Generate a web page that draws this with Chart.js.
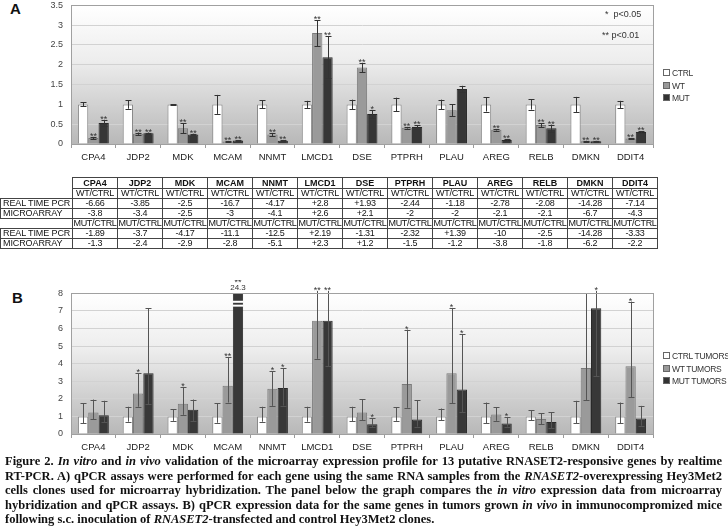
<!DOCTYPE html>
<html>
<head>
<meta charset="utf-8">
<script src="https://cdn.jsdelivr.net/npm/chart.js@4.4.1/dist/chart.umd.min.js"></script>
<style>
  body { margin: 0; background: #fff; width: 728px; height: 530px; position: relative; overflow: hidden;
         font-family: "Liberation Sans", Arial, sans-serif; }
  canvas { position: absolute; left: 0; }
  .panel { position: absolute; font-weight: bold; font-size: 15px; color: #111; }
  .leg { position: absolute; font-size: 8.5px; letter-spacing: -0.3px; color: #333; white-space: nowrap; line-height: 12px; will-change: transform; }
  .leg span { display: inline-block; width: 5px; height: 5px; border: 1px solid #666; margin-right: 2px; vertical-align: 0px; }
  .pv { position: absolute; font-size: 9px; color: #333; white-space: nowrap; will-change: transform; }
  #tbl { position: absolute; left: 0; top: 177px; border-collapse: collapse; table-layout: fixed; width: 657px;
         font-size: 9px; line-height: 9px; color: #111; letter-spacing: -0.3px; will-change: transform; background: #fff; }
  #tbl td, #tbl th { border: 1px solid #444; padding: 0; text-align: center; height: 9px; white-space: nowrap; overflow: hidden; }
  #tbl th { font-weight: bold; height: 10px; letter-spacing: 0; }
  #tbl td.e { border: none; }
  #tbl td.l { text-align: left; padding-left: 2px; letter-spacing: -0.1px; }
  #cap { position: absolute; left: 5px; top: 454px; width: 717px; font-family: "Liberation Serif", "Times New Roman", serif;
         font-weight: bold; font-size: 12.5px; line-height: 14.6px; color: #111; }
  #cap div { white-space: nowrap; }
  #cap div span { display: inline-block; transform-origin: 0 0; }
</style>
</head>
<body>
<div class="panel" style="left:10px;top:0px">A</div>
<canvas id="chartA" width="728" height="170" style="top:0"></canvas>
<div class="pv" style="left:605px;top:9px">*&nbsp; p&lt;0.05</div>
<div class="pv" style="left:602px;top:30px">** p&lt;0.01</div>
<div class="leg" style="left:663px;top:67px"><span style="background:#fff"></span>CTRL</div>
<div class="leg" style="left:663px;top:80px"><span style="background:#999"></span>WT</div>
<div class="leg" style="left:663px;top:92px"><span style="background:#333"></span>MUT</div>

<table id="tbl"></table>

<div class="panel" style="left:12px;top:289px">B</div>
<canvas id="chartB" width="728" height="180" style="top:280px"></canvas>
<div class="leg" style="left:663px;top:350px"><span style="background:#fff"></span>CTRL TUMORS</div>
<div class="leg" style="left:663px;top:363px"><span style="background:#999"></span>WT TUMORS</div>
<div class="leg" style="left:663px;top:375px"><span style="background:#333"></span>MUT TUMORS</div>

<div id="cap">
  <div><span>Figure 2. <i>In vitro</i> and <i>in vivo</i> validation of the microarray expression profile for 13 putative RNASET2-responsive genes by realtime</span></div>
  <div><span>RT-PCR. A) qPCR assays were performed for each gene using the same RNA samples from the <i>RNASET2</i>-overexpressing Hey3Met2</span></div>
  <div><span>cells clones used for microarray hybridization. The panel below the graph compares the <i>in vitro</i> expression data from microarray</span></div>
  <div><span>hybridization and qPCR assays. B) qPCR expression data for the same genes in tumors grown <i>in vivo</i> in immunocompromized mice</span></div>
  <div><span>following s.c. inoculation of <i>RNASET2</i>-transfected and control Hey3Met2 clones.</span></div>
</div>

<script>
const genes = ['CPA4', 'JDP2', 'MDK', 'MCAM', 'NNMT', 'LMCD1', 'DSE', 'PTPRH', 'PLAU', 'AREG', 'RELB', 'DMKN', 'DDIT4'];

// panel A - in vitro (relative expression)
const ctrlA    = [1, 1, 1, 1, 1, 1, 1, 1, 1, 1, 1, 1, 1];
const ctrlErrA = [0.05, 0.11, 0.01, 0.24, 0.10, 0.09, 0.12, 0.17, 0.12, 0.18, 0.13, 0.19, 0.09];
const wtA      = [0.15, 0.26, 0.40, 0.06, 0.24, 2.80, 1.93, 0.41, 0.85, 0.36, 0.48, 0.07, 0.14];
const wtErrA   = [0.03, 0.03, 0.13, 0.01, 0.04, 0.33, 0.12, 0.02, 0.15, 0.02, 0.05, 0.01, 0.01];
const mutA     = [0.53, 0.27, 0.24, 0.09, 0.08, 2.19, 0.76, 0.43, 1.39, 0.10, 0.40, 0.07, 0.30];
const mutErrA  = [0.08, 0.02, 0.02, 0.01, 0.01, 0.53, 0.10, 0.05, 0.08, 0.02, 0.09, 0.01, 0.02];
const wtSigA   = ['**', '**', '**', '**', '**', '**', '**', '**', '', '**', '**', '**', '**'];
const mutSigA  = ['**', '**', '**', '**', '**', '**', '*', '**', '', '**', '**', '**', '**'];

// table under panel A
const pcrWt  = [-6.66, -3.85, -2.5, -16.7, -4.17, 2.8, 1.93, -2.44, -1.18, -2.78, -2.08, -14.28, -7.14];
const arrWt  = [-3.8, -3.4, -2.5, -3, -4.1, 2.6, 2.1, -2, -2, -2.1, -2.1, -6.7, -4.3];
const pcrMut = [-1.89, -3.7, -4.17, -11.1, -12.5, 2.19, -1.31, -2.32, 1.39, -10, -2.5, -14.28, -3.33];
const arrMut = [-1.3, -2.4, -2.9, -2.8, -5.1, 2.3, 1.2, -1.5, -1.2, -3.8, -1.8, -6.2, -2.2];

// panel B - tumors in vivo
const ctrlB   = [1, 1, 1, 1, 1, 1, 1, 1, 1, 1, 1, 1, 1];
const ctrlLoB = [0.60, 0.70, 0.75, 0.64, 0.70, 0.70, 0.74, 0.75, 0.79, 0.60, 0.79, 0.60, 0.60];
const ctrlHiB = [1.74, 1.55, 1.40, 1.74, 1.55, 1.55, 1.55, 1.51, 1.45, 1.79, 1.36, 1.89, 1.79];
const wtB     = [1.22, 2.30, 1.72, 2.75, 2.58, 6.45, 1.22, 2.85, 3.45, 1.11, 0.85, 3.75, 3.85];
const wtLoB   = [0.83, 1.55, 1.09, 1.79, 1.60, 4.28, 0.79, 1.49, 1.74, 0.75, 0.55, 1.92, 2.08];
const wtHiB   = [1.96, 3.47, 2.68, 4.38, 3.58, 8.60, 1.98, 5.94, 7.17, 1.51, 1.17, 8.00, 7.53];
const mutB    = [1.06, 3.45, 1.38, 24.3, 2.62, 6.45, 0.55, 0.83, 2.53, 0.60, 0.68, 7.15, 0.88];
const mutLoB  = [0.66, 1.70, 0.74, null, 1.62, 3.85, 0.38, 0.42, 1.23, 0.42, 0.32, 3.28, 0.47];
const mutHiB  = [1.89, 7.17, 1.96, null, 3.74, 8.60, 0.89, 1.92, 5.68, 0.94, 1.23, 8.60, 1.60];
const wtSigB  = ['', '*', '*', '**', '*', '**', '', '*', '*', '', '', '', '*'];
const mutSigB = ['', '', '', '**', '*', '**', '*', '', '*', '*', '', '*', ''];

Chart.defaults.font.family = '"Liberation Sans", Arial, sans-serif';

const pm = (v, e) => ({ lo: v.map((x, i) => x - e[i]), hi: v.map((x, i) => x + e[i]) });

// background, error bars, stars, broken bar, frame
function makeDecor(series, errColor) {
  return {
    id: 'decor',
    beforeDraw(chart) {
      const { ctx, chartArea: a } = chart;
      const g = ctx.createLinearGradient(0, a.top, 0, a.bottom);
      g.addColorStop(0, '#ffffff');
      g.addColorStop(0.4, '#ededed');
      g.addColorStop(1, '#b8b8b8');
      ctx.save();
      ctx.fillStyle = g;
      ctx.fillRect(a.left, a.top, a.right - a.left, a.bottom - a.top);
      ctx.restore();
    },
    afterDatasetsDraw(chart) {
      const { ctx, chartArea: a } = chart;
      const y = chart.scales.y;
      ctx.save();
      series.forEach((s, di) => {
        chart.getDatasetMeta(di).data.forEach((bar, i) => {
          const x = Math.round(bar.x) + 0.5;
          let top = y.getPixelForValue(s.val[i]);
          if (s.val[i] > y.max) {
            // broken bar
            const w = bar.width;
            ctx.fillStyle = '#ffffff';
            ctx.fillRect(bar.x - w / 2, y.getPixelForValue(7.58), w, 2);
            ctx.fillRect(bar.x - w / 2, y.getPixelForValue(7.36), w, 2);
            ctx.fillStyle = '#333';
            ctx.font = '8px "Liberation Sans", Arial';
            ctx.textAlign = 'center';
            ctx.textBaseline = 'alphabetic';
            ctx.fillText(String(s.val[i]), bar.x, a.top - 3);
            top = a.top - 10;
          }
          if (s.lo[i] != null) {
            const yl = y.getPixelForValue(s.lo[i]);
            let yh = y.getPixelForValue(s.hi[i]);
            let capTop = true;
            if (yh < a.top - 1) { yh = a.top - 2.5; capTop = false; }
            ctx.strokeStyle = errColor;
            ctx.lineWidth = 1;
            ctx.beginPath();
            ctx.moveTo(x, yl); ctx.lineTo(x, yh);
            ctx.moveTo(x - 3, Math.round(yl) + 0.5); ctx.lineTo(x + 3, Math.round(yl) + 0.5);
            if (capTop) { ctx.moveTo(x - 3, Math.round(yh) + 0.5); ctx.lineTo(x + 3, Math.round(yh) + 0.5); }
            ctx.stroke();
            top = Math.min(top, yh);
          }
          if (s.sig[i]) {
            ctx.fillStyle = '#333';
            ctx.font = '9px "Liberation Sans", Arial';
            ctx.textAlign = 'center';
            ctx.textBaseline = 'alphabetic';
            ctx.fillText(s.sig[i], bar.x, top + 2);
          }
        });
      });
      ctx.strokeStyle = '#a0a0a0';
      ctx.lineWidth = 1;
      ctx.strokeRect(Math.round(a.left) + 0.5, Math.round(a.top) + 0.5,
                     Math.round(a.right - a.left), Math.round(a.bottom - a.top));
      ctx.restore();
    }
  };
}

function config(sets, yMax, topPad, series, errColor) {
  return {
    type: 'bar',
    data: {
      labels: genes,
      datasets: sets.map(s => ({
        data: s.data,
        backgroundColor: s.color,
        borderColor: s.border,
        borderWidth: 1,
        categoryPercentage: 0.69,
        barPercentage: 1
      }))
    },
    options: {
      responsive: false,
      animation: false,
      layout: { padding: { top: topPad, right: 75, left: 0, bottom: 0 } },
      plugins: { legend: { display: false }, tooltip: { enabled: false } },
      scales: {
        x: {
          grid: { drawOnChartArea: false, drawTicks: true, tickLength: 4, color: '#9a9a9a' },
          border: { color: '#a0a0a0' },
          ticks: { color: '#222', font: { size: 9.5 }, padding: 4, maxRotation: 0, autoSkip: false },
          afterFit: sc => { sc.height = 26; }
        },
        y: {
          min: 0, max: yMax,
          ticks: { stepSize: yMax > 4 ? 1 : 0.5, color: '#444', font: { size: 9 }, padding: 8,
                   callback: v => String(v) },
          grid: { color: '#d2d2d2', drawTicks: false },
          border: { color: '#a0a0a0' },
          afterFit: sc => { sc.width = 71; }
        }
      }
    },
    plugins: [makeDecor(series, errColor)]
  };
}

// place the plot area at page coordinates top..bottom
function place(id, cfg, top, bottom) {
  const cv = document.getElementById(id);
  cv.style.top = '0px';
  cv.height = bottom + 26 - top + 20;
  let ch = new Chart(cv, cfg());
  const off = ch.chartArea.top;
  ch.destroy();
  cv.height = off + (bottom - top) + 26;
  cv.style.top = (top - off) + 'px';
  return new Chart(cv, cfg());
}

const cE = pm(ctrlA, ctrlErrA), wE = pm(wtA, wtErrA), mE = pm(mutA, mutErrA);
place('chartA', () => config([
  { data: ctrlA, color: '#ffffff', border: '#8a8a8a' },
  { data: wtA, color: '#9a9a9a', border: '#7a7a7a' },
  { data: mutA, color: '#363636', border: '#2a2a2a' }
], 3.5, 5, [
  { val: ctrlA, lo: cE.lo, hi: cE.hi, sig: [] },
  { val: wtA, lo: wE.lo, hi: wE.hi, sig: wtSigA },
  { val: mutA, lo: mE.lo, hi: mE.hi, sig: mutSigA }
], '#333'), 5, 144);

place('chartB', () => config([
  { data: ctrlB, color: '#ffffff', border: '#8a8a8a' },
  { data: wtB, color: '#9a9a9a', border: '#7a7a7a' },
  { data: mutB, color: '#383838', border: '#2a2a2a' }
], 8, 13, [
  { val: ctrlB, lo: ctrlLoB, hi: ctrlHiB, sig: [] },
  { val: wtB, lo: wtLoB, hi: wtHiB, sig: wtSigB },
  { val: mutB, lo: mutLoB, hi: mutHiB, sig: mutSigB }
], '#555'), 293, 434);

// table
const fmt = v => (v > 0 ? '+' : '') + v;
const row = (label, cells, cls) =>
  '<tr>' + (label ? '<td class="l">' + label + '</td>' : '<td class="e"></td>') +
  cells.map(c => cls === 'h' ? '<th>' + c + '</th>' : '<td>' + c + '</td>').join('') + '</tr>';
let html = '<colgroup><col style="width:72px">' + genes.map(() => '<col style="width:45px">').join('') + '</colgroup>';
html += row('', genes, 'h');
html += row('', genes.map(() => 'WT/CTRL'));
html += row('REAL TIME PCR', pcrWt.map(fmt));
html += row('MICROARRAY', arrWt.map(fmt));
html += row('', genes.map(() => 'MUT/CTRL'));
html += row('REAL TIME PCR', pcrMut.map(fmt));
html += row('MICROARRAY', arrMut.map(fmt));
document.getElementById('tbl').innerHTML = html;

// justify caption lines
const lines = [...document.querySelectorAll('#cap div span')];
const target = 717;
let scale = 1;
lines.forEach((sp, k) => {
  const w = sp.getBoundingClientRect().width;
  if (k === lines.length - 1) { sp.style.transform = 'scaleX(' + scale + ')'; return; }
  if (w > target) {
    scale = target / w;
    sp.style.transform = 'scaleX(' + scale + ')';
  } else {
    const n = (sp.textContent.match(/ /g) || []).length;
    sp.style.wordSpacing = ((target - w) / n) + 'px';
  }
});
</script>
</body>
</html>
